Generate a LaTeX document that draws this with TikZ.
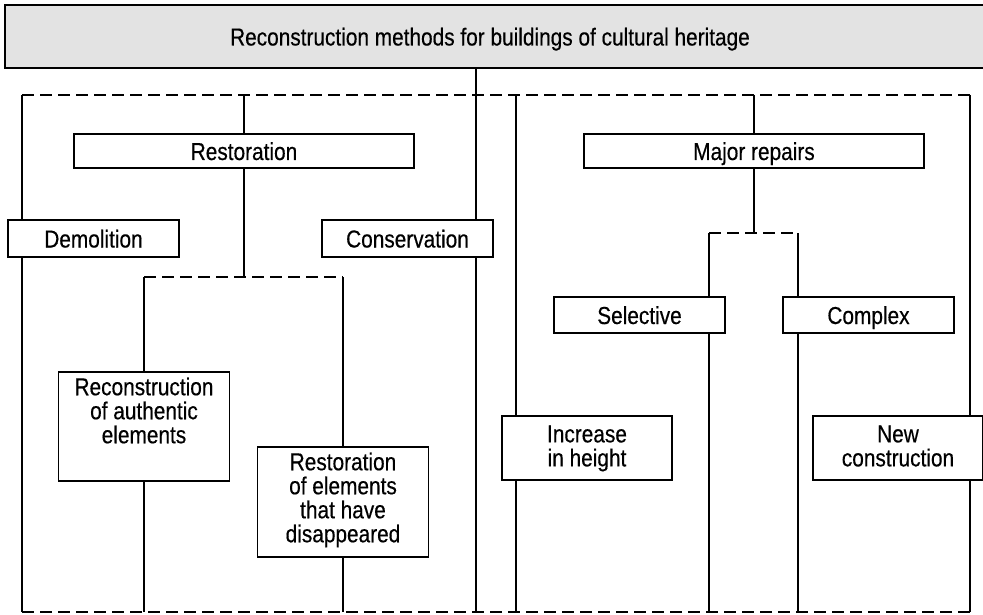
\documentclass[tikz,border=0pt]{standalone}
\usepackage{fontspec}
\setmainfont{Liberation Sans}[FakeStretch=0.85, FakeBold=0.4]
\usetikzlibrary{backgrounds}
\definecolor{titlegray}{HTML}{E3E3E3}
\newcommand\lblfont{\fontsize{24.5}{24}\selectfont}
% top-aligned block of lines inside a box of the given inner height
\newcommand\boxtext[2]{\parbox[c][#1][t]{165pt}{\centering #2}}

\begin{document}
\begin{tikzpicture}[x=1pt,y=-1pt,
  box/.style={draw, line width=1.7pt, fill=white, inner sep=0pt, align=center,
    font=\lblfont, minimum width=171pt},
  single/.style={box, minimum height=36pt, text height=18pt, text depth=0pt},
  wide/.style={single, minimum width=340pt, minimum height=34pt},
  link/.style={line width=1.7pt},
  dashlink/.style={line width=1.7pt, dash pattern=on 12pt off 6pt},
]
\useasboundingbox (0,0) rectangle (983,615);

% heading
\node[single, fill=titlegray, minimum width=990pt, minimum height=63pt] (title) at (500,36.5)
  {\hspace*{-20pt}Reconstruction methods for buildings of cultural heritage};

% left branch
\node[wide] (rest) at (244,151) {Restoration};
\node[single, minimum height=37pt] (dem) at (93.5,238.5) {Demolition};
\node[single, minimum height=37pt] (cons) at (407.5,238.5) {Conservation};
\node[box, minimum height=109pt] (recon) at (144,426.5)
  {\boxtext{98pt}{Reconstruction\\of authentic\\elements}};
\node[box, minimum height=110pt] (relem) at (343,502)
  {\boxtext{99pt}{Restoration\\of elements\\that have\\disappeared}};

% right branch
\node[wide] (major) at (754,151) {Major repairs};
\node[single] (sel) at (639.5,315) {Selective};
\node[single] (cplx) at (868.5,315) {Complex};
\node[box, minimum width=170pt, minimum height=64pt] (incr) at (587,448)
  {\boxtext{45pt}{Increase\\in height}};
\node[box, minimum width=170pt, minimum height=64pt] (newc) at (898,448)
  {\boxtext{45pt}{New\\construction}};

% frame and junction points
\coordinate (tl) at (22,95);
\coordinate (tr) at (970,95);
\coordinate (bl) at (22,612);
\coordinate (br) at (970,612);
\coordinate (spine) at (476,612);
\coordinate (rgtop) at (516,95);
\coordinate (rgbot) at (516,612);
\coordinate (sl) at (144,277);
\coordinate (sr) at (343,277);
\coordinate (ssl) at (709,233);
\coordinate (ssr) at (798,233);

\begin{scope}[on background layer]
  \draw[dashlink] (tl) -- (tr);
  \draw[dashlink] (bl) -- (br);
  \draw[link] (title.south -| spine) -- (spine);
  \draw[link] (tl) -- (bl);
  \draw[link] (tr) -- (br);
  \draw[link] (rgtop) -- (rgbot);
  % restoration subtree
  \draw[link] (rest.north |- tl) -- (rest.north);
  \draw[link] (rest.south) -- (rest.south |- sl);
  \draw[dashlink] (sl) -- (sr);
  \draw[link] (sl) -- (recon.north);
  \draw[link] (recon.south) -- (recon.south |- bl);
  \draw[link] (sr) -- (relem.north);
  \draw[link] (relem.south) -- (relem.south |- bl);
  % major repairs subtree
  \draw[link] (major.north |- tr) -- (major.north);
  \draw[link] (major.south) -- (major.south |- ssl);
  \draw[dashlink] (ssl) -- (ssr);
  \draw[link] (ssl) -- (ssl |- sel.north);
  \draw[link] (ssl |- sel.south) -- (ssl |- bl);
  \draw[link] (ssr) -- (ssr |- cplx.north);
  \draw[link] (ssr |- cplx.south) -- (ssr |- bl);
\end{scope}
\end{tikzpicture}
\end{document}
